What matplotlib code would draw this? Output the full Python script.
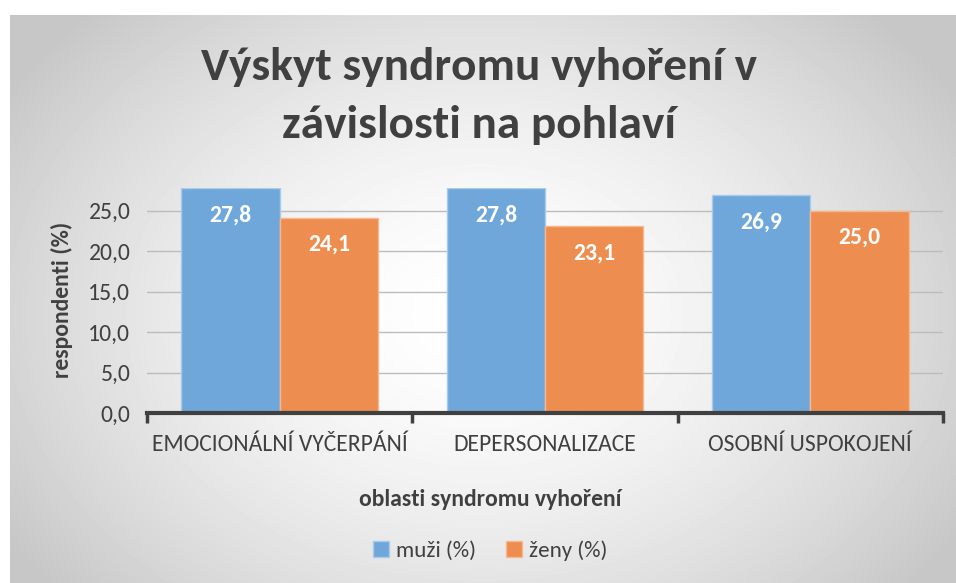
import numpy as np
import matplotlib.pyplot as plt
from matplotlib.patches import Patch

plt.rcParams['font.family'] = ['Carlito', 'Lato', 'DejaVu Sans']

categories = ['EMOCIONÁLNÍ VYČERPÁNÍ', 'DEPERSONALIZACE', 'OSOBNÍ USPOKOJENÍ']
muzi = [27.8, 27.8, 26.9]
zeny = [24.1, 23.1, 25.0]
series_names = ['muži (%)', 'ženy (%)']
yticks = [0, 5, 10, 15, 20, 25]
title_lines = ['Výskyt syndromu vyhoření v', 'závislosti na pohlaví']

W, H = 956, 583
fig = plt.figure(figsize=(W / 100, H / 100), dpi=100)
fig.patch.set_facecolor('white')

def box(x0, y0, x1, y1):
    # pixel box (top-left origin) -> figure fraction
    return [x0 / W, 1 - y1 / H, (x1 - x0) / W, (y1 - y0) / H]

# chart background with radial gradient
bg = fig.add_axes(box(10, 15, 956, 583))
bg.set_axis_off()
yy, xx = np.mgrid[0:568, 0:946]
cx, cy = 470, 300
r = np.sqrt(((xx - cx) / 560.0) ** 2 + ((yy - cy) / 420.0) ** 2)
g = 1.0 - 0.22 * np.clip(r, 0, 1) ** 1.6
bg.imshow(g, cmap='gray', vmin=0, vmax=1, aspect='auto', interpolation='bilinear')

ax = fig.add_axes(box(147, 188, 943, 413))
ax.set_facecolor('none')
x = np.arange(len(categories))
bw = 0.37
b1 = ax.bar(x - bw / 2, muzi, bw, color='#6FA7DB', edgecolor='#A9CBEA', linewidth=1, zorder=3)
b2 = ax.bar(x + bw / 2, zeny, bw, color='#EE8D50', edgecolor='#F5B88F', linewidth=1, zorder=3)

for bars in (b1, b2):
    for b in bars:
        v = b.get_height()
        ax.text(b.get_x() + b.get_width() / 2, v - 3.3, f'{v:.1f}'.replace('.', ','),
                ha='center', va='center', color='white', fontsize=17, fontweight='bold', zorder=4)

ax.set_xlim(-0.5, 2.5)
ax.set_ylim(0, 27.8)
ax.set_yticks(yticks)
ax.set_yticklabels([f'{t:.1f}'.replace('.', ',') for t in yticks])
ax.yaxis.grid(True, color='#bcbcbc', linewidth=1, zorder=0)
ax.set_xticks(x)
ax.set_xticklabels(categories)
ax.set_xticks([-0.5, 0.5, 1.5, 2.5], minor=True)
ax.tick_params(axis='x', which='major', length=0, pad=15, labelsize=17, labelcolor='#404040')
ax.tick_params(axis='x', which='minor', length=7, width=2.5, color='#404040', direction='out')
ax.tick_params(axis='y', length=0, pad=12, labelsize=17, labelcolor='#404040')
for s in ('top', 'right', 'left'):
    ax.spines[s].set_visible(False)
ax.spines['bottom'].set_color('#404040')
ax.spines['bottom'].set_linewidth(3)
ax.spines['bottom'].set_zorder(5)

fig.text(62 / W, 1 - 300 / H, 'respondenti (%)', rotation=90, ha='center', va='center',
         fontsize=17, fontweight='bold', color='#404040')

fig.text(479 / W, 1 - 80 / H, title_lines[0], ha='center', va='baseline',
         fontsize=34, fontweight='bold', color='#404040')
fig.text(479 / W, 1 - 138 / H, title_lines[1], ha='center', va='baseline',
         fontsize=34, fontweight='bold', color='#404040')
fig.text(490 / W, 1 - 500 / H, 'oblasti syndromu vyhoření', ha='center', va='center',
         fontsize=17, fontweight='bold', color='#404040')

handles = [Patch(facecolor='#6FA7DB', edgecolor='#A9CBEA'), Patch(facecolor='#EE8D50', edgecolor='#F5B88F')]
fig.legend(handles, series_names, loc='center', bbox_to_anchor=(490 / W, 1 - 551 / H), ncol=2,
           frameon=False, fontsize=16.5, labelcolor='#404040', handlelength=0.7, handleheight=0.7,
           handletextpad=0.3, columnspacing=1.3)

fig.savefig('out.png', dpi=100)
